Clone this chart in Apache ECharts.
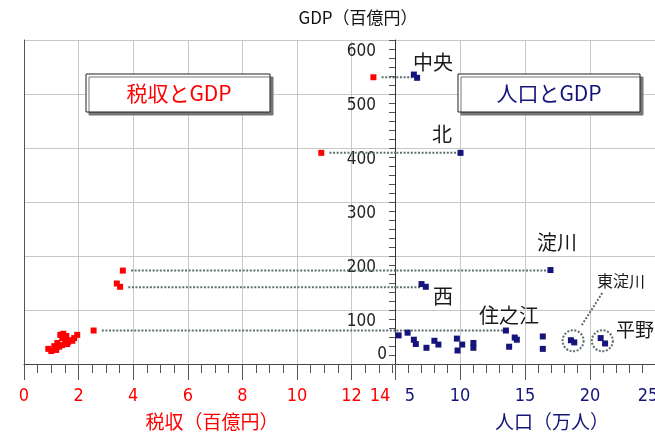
<!DOCTYPE html>
<html>
<head>
<meta charset="utf-8">
<script src="https://cdn.jsdelivr.net/npm/echarts@6/dist/echarts.min.js"></script>
<style>html,body{margin:0;padding:0;background:#fff;}#c{width:655px;height:433px;}</style>
</head>
<body>
<div id="c"></div>
<script>
// ---- data ----
// red: tax revenue (百億円) vs GDP (百億円)
const taxValues = [12.80, 10.89, 3.62, 3.40, 3.52, 2.55, 0.89, 1.00, 1.11, 1.22, 1.33, 1.40, 1.44, 1.55, 1.51, 1.29, 1.40, 1.62, 1.69, 1.77, 1.84, 1.95, 1.18, 1.58];
const gdpByTax  = [531, 391, 173, 149, 143, 62, 28, 24, 33, 39, 54, 48, 56, 52, 43, 32, 35, 41, 44, 43, 48, 54, 26, 37];
// blue: population (万人) vs GDP (百億円)
const popValues = [6.45, 6.70, 10.04, 16.96, 7.04, 7.37, 13.53, 5.28, 5.97, 6.45, 6.60, 7.42, 8.03, 8.34, 9.76, 10.17, 9.81, 11.03, 11.03, 14.21, 14.37, 13.78, 16.37, 16.37, 18.53, 18.79, 20.82, 21.16];
const gdpByPop  = [536, 530, 391, 174, 148, 143, 62, 53, 58, 45, 37, 30, 43, 36, 47, 36, 25, 39, 30, 49, 45, 32, 51, 28, 44, 40, 48, 38];
// connector lines: ward, GDP, tax (red end), population (blue end)
const linkNames = ['中央', '北', '淀川', '西', '住之江'];
const linkGdp   = [531, 391, 173, 142, 62];
const linkTax   = [12.80, 10.89, 3.62, 3.52, 2.55];
const linkPop   = [6.45, 10.04, 16.96, 7.04, 13.53];
// circled wards
const circleNames = ['東淀川', '平野'];
const circlePop = [18.70, 20.95];
const circleGdp = [43, 43];
const leaderFrom = [19.37, 72];
const leaderTo = [20.98, 133];
// tick labels
const leftTicks = [0, 2, 4, 6, 8, 10, 12, 14];
const rightTicks = [5, 10, 15, 20, 25];
const yTicks = [0, 100, 200, 300, 400, 500, 600];

const RED = '#ff0000';
const NAVY = '#14147a';
const DOT = '#5f6e6e';
const NARROW = "'Liberation Sans Narrow','Arial Narrow','DejaVu Sans Condensed',sans-serif";
const JP = "'Liberation Sans Narrow','Noto Sans CJK JP',sans-serif";

const leftMax = 13.59;
const chart = echarts.init(document.getElementById('c'), null, {renderer: 'canvas', width: 655, height: 433});

function xAxisCfg(idx, min, max, interval, minorSplit, color) {
  return {
    gridIndex: idx, type: 'value', min: min, max: max, interval: interval,
    axisLine: {show: true, onZero: false, lineStyle: {color: '#444', width: 1}},
    axisTick: {show: true, length: 16, lineStyle: {color: '#555'}},
    minorTick: {show: true, splitNumber: minorSplit, length: 9, lineStyle: {color: '#555'}},
    splitLine: {show: true, lineStyle: {color: '#c8c8c8', width: 1}},
    axisLabel: {show: true, color: color, fontSize: 18, fontFamily: NARROW, margin: 23,
      showMinLabel: idx === 0, showMaxLabel: false,
      formatter: v => (idx === 0 ? (leftTicks.indexOf(v) >= 0 && v !== 14 ? String(v) : '') : (rightTicks.indexOf(v) >= 0 ? String(v) : ''))}
  };
}

const leftScatter = taxValues.map((v, i) => [v, gdpByTax[i]]);
const rightScatter = popValues.map((v, i) => [v, gdpByPop[i]]);

const series = [];
linkNames.forEach((n, i) => {
  series.push({type: 'line', xAxisIndex: 0, yAxisIndex: 0, symbol: 'none', silent: true, clip: true, z: 2,
    lineStyle: {color: DOT, width: 2, type: [2, 1.6]},
    data: [[linkTax[i] + 0.3, linkGdp[i]], [leftMax + 1, linkGdp[i]]]});
  series.push({type: 'line', xAxisIndex: 1, yAxisIndex: 1, symbol: 'none', silent: true, clip: true, z: 2,
    lineStyle: {color: DOT, width: 2, type: [2, 1.6]},
    data: [[4, linkGdp[i]], [linkPop[i], linkGdp[i]]]});
});
series.push({type: 'scatter', xAxisIndex: 1, yAxisIndex: 1, symbol: 'circle', symbolSize: 21, z: 2, silent: true,
  itemStyle: {color: 'rgba(0,0,0,0)', borderColor: DOT, borderWidth: 2, borderType: [2, 1.6], opacity: 1},
  data: circlePop.map((v, i) => [v, circleGdp[i]])});
series.push({type: 'line', xAxisIndex: 1, yAxisIndex: 1, symbol: 'none', silent: true, z: 2,
  lineStyle: {color: DOT, width: 2, type: [2, 1.6]}, data: [leaderFrom, leaderTo]});
series.push({type: 'scatter', xAxisIndex: 0, yAxisIndex: 0, symbol: 'rect', symbolSize: 6, z: 5,
  itemStyle: {color: RED, opacity: 1}, data: leftScatter});
series.push({type: 'scatter', xAxisIndex: 1, yAxisIndex: 1, symbol: 'rect', symbolSize: 6, z: 5,
  itemStyle: {color: NAVY, opacity: 1}, data: rightScatter});

function txt(text, x, y, size, color, font) {
  return {type: 'text', x: x, y: y, z: 100, silent: true,
    style: {text: text, fill: color, font: size + 'px ' + (font || JP), align: 'center', verticalAlign: 'middle'}};
}

const graphics = [
  {type: 'rect', z: 90, shape: {x: 86, y: 74, width: 184, height: 38},
    style: {fill: '#fff', stroke: '#222', lineWidth: 1, shadowOffsetX: 3, shadowOffsetY: 3, shadowBlur: 0, shadowColor: '#777'}},
  {type: 'rect', z: 90, shape: {x: 458, y: 74, width: 182, height: 38},
    style: {fill: '#fff', stroke: '#222', lineWidth: 1, shadowOffsetX: 3, shadowOffsetY: 3, shadowBlur: 0, shadowColor: '#777'}},
  txt('税収とGDP', 179, 93, 21, RED),
  txt('人口とGDP', 549, 93, 21, NAVY),
  txt('GDP（百億円）', 358, 18, 17, '#111'),
  txt('税収（百億円）', 212, 422, 19, RED),
  txt('人口（万人）', 552, 422, 19, NAVY),
  txt(String(leftTicks[7]), 380, 396, 18, RED, NARROW),
  txt(String(rightTicks[0]), 410, 396, 18, NAVY, NARROW),
  txt(String(rightTicks[4]), 648, 396, 18, NAVY, NARROW),
  txt(String(yTicks[0]), 382, 355, 17, '#222', NARROW),
  txt(linkNames[0], 433, 62, 20, '#1a1a1a'),
  txt(linkNames[1], 442, 134, 20, '#1a1a1a'),
  txt(linkNames[2], 557, 242, 20, '#1a1a1a'),
  txt(linkNames[3], 443, 296, 20, '#1a1a1a'),
  txt(linkNames[4], 509, 315, 20, '#1a1a1a'),
  txt(circleNames[0], 621, 281, 16, '#1a1a1a'),
  txt(circleNames[1], 635, 330, 19, '#1a1a1a')
];

chart.setOption({
  animation: false,
  backgroundColor: '#fff',
  grid: [
    {left: 24, top: 40, width: 371, height: 324, containLabel: false},
    {left: 395, top: 40, width: 262, height: 324, containLabel: false}
  ],
  xAxis: [
    xAxisCfg(0, 0, leftMax, 2, 4, RED),
    xAxisCfg(1, 5, 25, 5, 5, NAVY)
  ],
  yAxis: [
    {gridIndex: 0, type: 'value', min: 0, max: 600, interval: 100,
      axisLine: {show: true, lineStyle: {color: '#555'}}, axisTick: {show: false}, axisLabel: {show: false},
      splitLine: {show: true, lineStyle: {color: '#c8c8c8'}}},
    {gridIndex: 1, type: 'value', min: 0, max: 600, interval: 100,
      axisLine: {show: true, lineStyle: {color: '#333'}},
      axisTick: {show: true, length: 6, lineStyle: {color: '#555'}},
      minorTick: {show: true, splitNumber: 6, length: 6, lineStyle: {color: '#555'}},
      axisLabel: {show: true, showMinLabel: false, color: '#222', fontSize: 17, fontFamily: NARROW,
        margin: 19, verticalAlign: 'top', padding: [3, 0, 0, 0]},
      splitLine: {show: true, lineStyle: {color: '#c8c8c8'}}}
  ],
  series: series,
  graphic: graphics
});
</script>
</body>
</html>
